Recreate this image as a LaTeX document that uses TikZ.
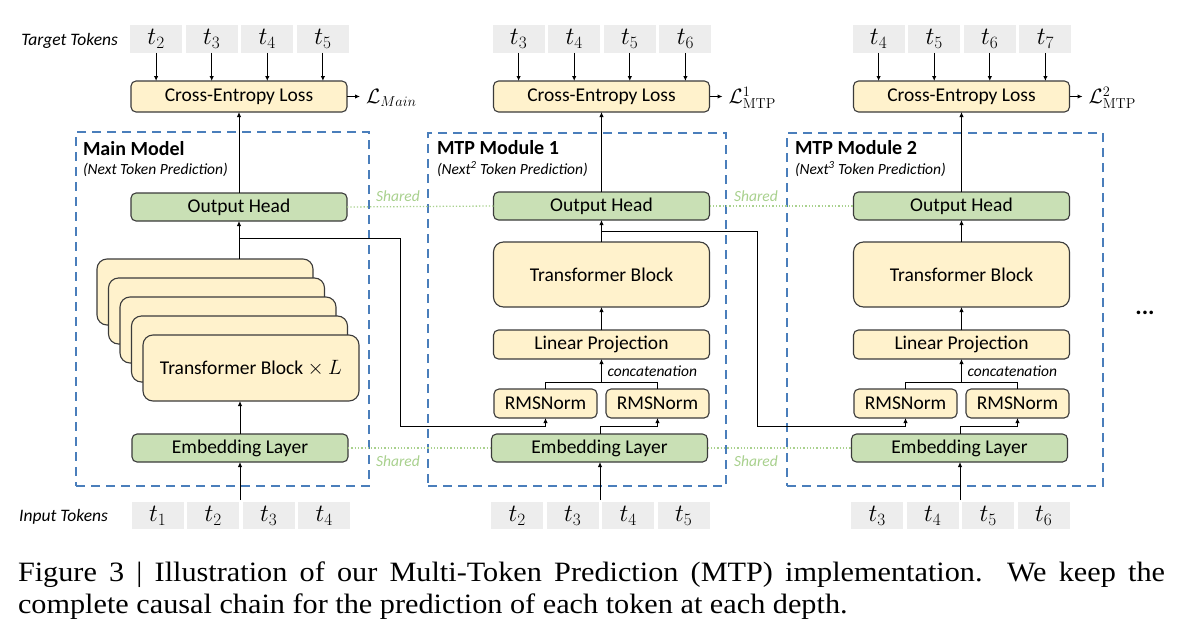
\documentclass[tikz,border=0pt]{standalone}
\usepackage[no-math]{fontspec}
\setmainfont{Carlito}
\newfontfamily\capfont{Liberation Serif}
\usetikzlibrary{arrows.meta,calc}
\definecolor{yel}{HTML}{FFF2CC}
\definecolor{grn}{HTML}{C9E0B5}
\definecolor{tokgray}{HTML}{EDEDED}
\definecolor{dashblue}{HTML}{4A7EBB}
\definecolor{bord}{HTML}{3B3B3B}
\definecolor{sharedgrn}{HTML}{A9D18E}
\newcommand{\fs}[1]{\fontsize{#1}{#1}\selectfont}
\begin{document}
\begin{tikzpicture}[x=1pt,y=-1pt,
  every node/.style={inner sep=0pt, outer sep=0pt},
  blk/.style={draw=bord, line width=1.1pt, rounded corners=5pt, minimum width=216pt, minimum height=29pt, font=\fs{19.5}},
  yblk/.style={blk, fill=yel},
  gblk/.style={blk, fill=grn},
  tok/.style={fill=tokgray, minimum width=52pt, minimum height=27.5pt, font=\fs{23}},
  arr/.style={-{Latex[length=5pt,width=4.5pt]}, line width=1pt},
  conn/.style={line width=1pt},
  modbox/.style={draw=dashblue, line width=1.6pt, dash pattern=on 9pt off 6pt},
  shared/.style={draw=sharedgrn, line width=1.3pt, dotted},
  sharedlbl/.style={text=sharedgrn, font=\fs{15.5}\itshape},
  ttl/.style={anchor=west, font=\fs{20}\bfseries},
  sub/.style={anchor=west, font=\fs{15.5}\itshape},
  side/.style={anchor=east, font=\fs{17.5}\itshape},
]
\useasboundingbox (0,0) rectangle (1200,640);
\fill[white] (0,0) rectangle (1200,640);

% ---------- module frames ----------
\node[modbox, anchor=north west, minimum width=293pt, minimum height=354pt] (box0) at (76,132) {};
\node[modbox, anchor=north west, minimum width=298pt, minimum height=353pt] (box1) at (428,133) {};
\node[modbox, anchor=north west, minimum width=316pt, minimum height=353pt] (box2) at (787,133) {};

\node[ttl] (ttl0) at (83,149) {Main Model};
\node[sub] (sub0) at (83,170) {(Next Token Prediction)};
\node[ttl] (ttl1) at (437,148) {MTP Module 1};
\node[sub] (sub1) at (437,169) {(Next\textsuperscript{2} Token Prediction)};
\node[ttl] (ttl2) at (795,148) {MTP Module 2};
\node[sub] (sub2) at (795,169) {(Next\textsuperscript{3} Token Prediction)};

% ---------- side labels ----------
\node[side] (tgtlbl) at (118,41) {Target Tokens};
\node[side] (inlbl) at (108,517) {Input Tokens};

% ---------- main model ----------
\node[yblk, minimum height=31pt] (ce0) at (239,96.5) {Cross-Entropy Loss};
\node[gblk, minimum height=28pt] (oh0) at (239,207) {Output Head};
\foreach \i in {4,3,2,1} {
  \node[draw=bord, line width=1.1pt, fill=yel, rounded corners=10pt, minimum width=216pt, minimum height=66pt]
    (stk\i) at ({251-11.5*\i},{368-19*\i}) {};
}
\node[draw=bord, line width=1.1pt, fill=yel, rounded corners=10pt, minimum width=216pt, minimum height=66pt, font=\fs{19.5}]
  (tb0) at (251,368) {Transformer Block $\times$ $L$};
\node[gblk, minimum height=28pt] (emb0) at (240,448) {Embedding Layer};

\foreach \j/\n in {0/2,1/3,2/4,3/5} {
  \node[tok] (tt0\j) at ({239.5+55.6*(\j-1.5)},39) {$t_{\n}$};
  \draw[arr] (tt0\j.south) -- (tt0\j.south |- ce0.north);
}
\foreach \j/\n in {0/1,1/2,2/3,3/4} {
  \node[tok] (it0\j) at ({241+55.5*(\j-1.5)},515.5) {$t_{\n}$};
}
\coordinate (in0) at (240,500);
\draw[arr] (in0) -- (emb0.south);
\draw[arr] (emb0.north) -- (emb0.north |- tb0.south);
\draw[arr] (stk4.north -| oh0.south) -- (oh0.south);
\draw[arr] (oh0.north) -- (ce0.south);
\draw[arr] (ce0.east) -- ++(13,0) coordinate (lm0);
\node[anchor=west, font=\fs{20}] (loss0) at ($(lm0)+(6,1.5)$) {$\mathcal{L}_{Main}$};

% ---------- MTP modules ----------
\foreach \k/\cx/\ta/\tb/\tc/\td/\ia/\ib/\ic/\id in {1/601.5/3/4/5/6/2/3/4/5, 2/961.5/4/5/6/7/3/4/5/6} {
  \node[yblk, minimum height=31pt] (ce\k) at (\cx,96.5) {Cross-Entropy Loss};
  \node[gblk, minimum height=28pt] (oh\k) at (\cx,206) {Output Head};
  \node[blk, fill=yel, rounded corners=10pt, minimum height=65pt] (tb\k) at (\cx,274.5) {Transformer Block};
  \node[yblk] (lp\k) at (\cx,344.5) {Linear Projection};
  \node[yblk, minimum width=103pt] (rl\k) at ({\cx-56},403.5) {RMSNorm};
  \node[yblk, minimum width=103pt] (rr\k) at ({\cx+56},403.5) {RMSNorm};
  \node[gblk, minimum height=28pt] (emb\k) at ({\cx-2},448) {Embedding Layer};
  \foreach \j/\n in {0/\ta,1/\tb,2/\tc,3/\td} {
    \node[tok] (tt\k\j) at ({\cx+0.5+55.6*(\j-1.5)},39) {$t_{\n}$};
    \draw[arr] (tt\k\j.south) -- (tt\k\j.south |- ce\k.north);
  }
  \foreach \j/\n in {0/\ia,1/\ib,2/\ic,3/\id} {
    \node[tok] (it\k\j) at ({\cx-1+55.5*(\j-1.5)},515.5) {$t_{\n}$};
  }
  \coordinate (in\k) at ({\cx-1.5},500);
  \draw[arr] (in\k) -- (in\k |- emb\k.south);
  \draw[conn] (in\k |- emb\k.north) -- ++(0,-8) coordinate (ej\k) -- (ej\k -| rr\k.south);
  \draw[arr] (ej\k -| rr\k.south) -- (rr\k.south);
  \draw[conn] (rl\k.north) -- ++(0,-7) coordinate (cj\k) -- (cj\k -| rr\k.north) -- (rr\k.north);
  \draw[arr] (cj\k -| lp\k.south) -- (lp\k.south);
  \node[anchor=west, font=\fs{15.5}\itshape] (cat\k) at ({\cx+6},371) {concatenation};
  \draw[arr] (lp\k.north) -- (tb\k.south);
  \draw[arr] (tb\k.north) -- (oh\k.south);
  \draw[arr] (oh\k.north) -- (ce\k.south);
  \draw[arr] (ce\k.east) -- ++(13,0) coordinate (lm\k);
  \node[anchor=west, font=\fs{20}] (loss\k) at ($(lm\k)+(6,1.5)$) {$\mathcal{L}^{\k}_{\mathrm{MTP}}$};
}

% ---------- cross-module connections ----------
\coordinate (br0) at (239,238);
\coordinate (dn0) at (400,238);
\draw[conn] (br0) -- (dn0) -- (dn0 |- 0,426) -- (rl1.south |- 0,426);
\draw[arr] (rl1.south |- 0,426) -- (rl1.south);
\coordinate (br1) at (601.5,231);
\coordinate (dn1) at (757,231);
\draw[conn] (br1) -- (dn1) -- (dn1 |- 0,426) -- (rl2.south |- 0,426);
\draw[arr] (rl2.south |- 0,426) -- (rl2.south);

% ---------- shared weights ----------
\draw[shared] (oh0.east) -- (oh1.west);
\draw[shared] (oh1.east) -- (oh2.west);
\draw[shared] (emb0.east) -- (emb0.east -| emb1.west);
\draw[shared] (emb1.east) -- (emb1.east -| emb2.west);
\node[sharedlbl] (sh1) at (398,196) {Shared};
\node[sharedlbl] (sh2) at (756,196) {Shared};
\node[sharedlbl] (sh3) at (398,461) {Shared};
\node[sharedlbl] (sh4) at (756,461) {Shared};

\node[font=\fs{24}\bfseries] (more) at (1145,313) {...};

% ---------- caption ----------
\node[anchor=base west, font=\capfont\fontsize{28}{32}\selectfont] (cap) at (18,581)
  {\scalebox{1.08}[1]{\parbox[t]{1062pt}{Figure 3 | Illustration of our Multi-Token Prediction (MTP) implementation.\ \ We keep the\linebreak complete causal chain for the prediction of each token at each depth.}}};
\end{tikzpicture}
\end{document}
